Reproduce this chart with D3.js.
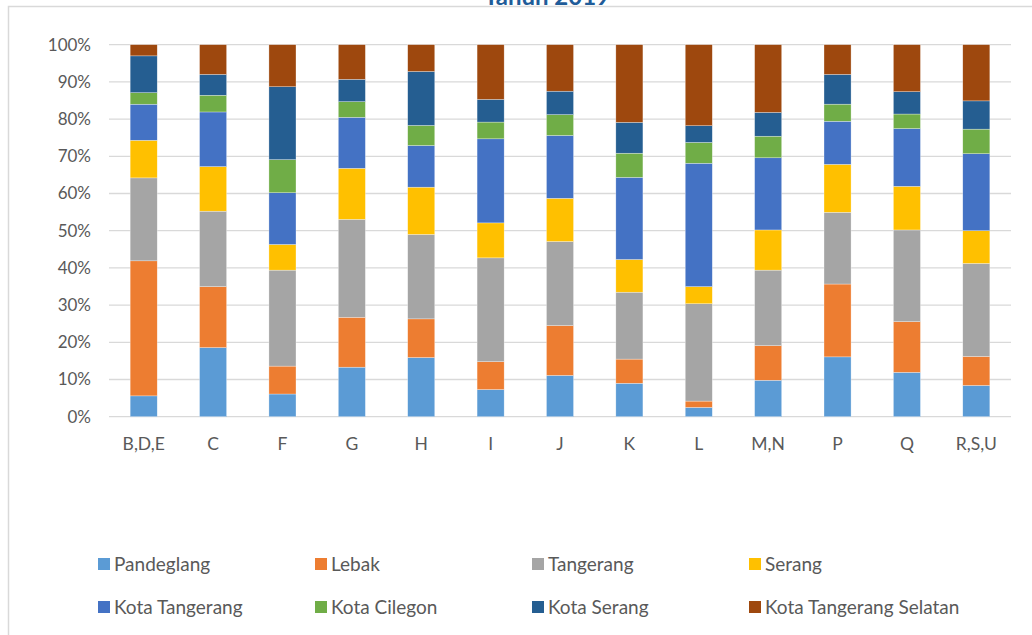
<!DOCTYPE html>
<html>
<head>
<meta charset="utf-8">
<script src="https://cdn.jsdelivr.net/npm/d3@7"></script>
<style>
  body { margin: 0; background: #fff; }
  svg { display: block; font-family: Lato, "Open Sans", sans-serif; }
</style>
</head>
<body>
<svg width="1032" height="635"></svg>
<script>
// kategori lapangan usaha
var categories = ["B,D,E", "C", "F", "G", "H", "I", "J", "K", "L", "M,N", "P", "Q", "R,S,U"];

// nama kabupaten/kota (urutan tumpukan dari bawah)
var regions = ["Pandeglang", "Lebak", "Tangerang", "Serang", "Kota Tangerang", "Kota Cilegon", "Kota Serang", "Kota Tangerang Selatan"];
var colors = ["#5B9BD5", "#ED7D31", "#A5A5A5", "#FFC000", "#4472C4", "#70AD47", "#255E91", "#9E480E"];

// persentase tiap wilayah per kategori
var pandeglang   = [5.6, 18.6, 6.1, 13.3, 15.9, 7.3, 11.1, 9.0, 2.5, 9.8, 16.1, 11.9, 8.4];
var lebak        = [36.3, 16.4, 7.5, 13.4, 10.4, 7.5, 13.4, 6.5, 1.7, 9.3, 19.6, 13.6, 7.8];
var tangerang    = [22.3, 20.3, 25.8, 26.3, 22.7, 27.9, 22.6, 18.0, 26.2, 20.3, 19.3, 24.6, 25.0];
var serang       = [10.1, 12.0, 6.9, 13.7, 12.7, 9.4, 11.6, 8.8, 4.6, 10.8, 12.9, 11.7, 8.8];
var kotaTangerang = [9.7, 14.7, 13.9, 13.7, 11.2, 22.6, 16.9, 22.1, 33.2, 19.4, 11.6, 15.5, 20.7];
var kotaCilegon  = [3.1, 4.5, 8.9, 4.2, 5.4, 4.5, 5.6, 6.5, 5.6, 5.8, 4.6, 3.9, 6.6];
var kotaSerang   = [9.9, 5.6, 19.6, 6.0, 14.5, 6.1, 6.3, 8.3, 4.5, 6.4, 8.0, 6.0, 7.6];
var kotaTangsel  = [3.0, 8.0, 11.3, 9.3, 7.2, 14.7, 12.5, 20.9, 21.8, 18.2, 8.0, 12.6, 15.1];

var seriesValues = [pandeglang, lebak, tangerang, serang, kotaTangerang, kotaCilegon, kotaSerang, kotaTangsel];

var yTicks = [0, 0.1, 0.2, 0.3, 0.4, 0.5, 0.6, 0.7, 0.8, 0.9, 1];

// tabel untuk d3.stack, dinormalisasi ke 100%
var table = categories.map(function (c, i) {
    var row = { cat: c };
    var total = d3.sum(seriesValues, function (s) { return s[i]; });
    regions.forEach(function (r, j) { row[r] = seriesValues[j][i] / total; });
    return row;
});

var svg = d3.select("svg");

// bingkai grafik
svg.append("rect")
    .attr("x", 8.5).attr("y", 6.5)
    .attr("width", 1100).attr("height", 700)
    .attr("fill", "none")
    .attr("stroke", "#d9d9d9")
    .attr("stroke-width", 1.5);

// judul (terpotong di atas, seperti aslinya)
svg.append("text")
    .attr("x", 547).attr("y", 4.5)
    .attr("text-anchor", "middle")
    .attr("font-size", 24)
    .attr("font-weight", "bold")
    .attr("fill", "#1F5C99")
    .text("Tahun 2019");

var margin = { left: 109, right: 1011, top: 44.7, bottom: 416.7 };

var x = d3.scaleBand()
    .domain(categories)
    .range([margin.left, margin.right])
    .paddingInner(0.61)
    .paddingOuter(0.305);

var y = d3.scaleLinear()
    .domain([0, 1])
    .range([margin.bottom, margin.top]);

// garis grid
svg.append("g")
    .selectAll("line")
    .data(yTicks)
    .enter()
    .append("line")
    .attr("x1", margin.left).attr("x2", margin.right)
    .attr("y1", function (d) { return y(d); })
    .attr("y2", function (d) { return y(d); })
    .attr("stroke", "#d9d9d9")
    .attr("stroke-width", 1.3);

// sumbu y
var yAxis = svg.append("g")
    .attr("transform", "translate(" + (margin.left - 18) + ",0)")
    .call(d3.axisLeft(y).tickValues(yTicks).tickFormat(d3.format(".0%")).tickSize(0).tickPadding(0));
yAxis.select(".domain").remove();
yAxis.selectAll("text")
    .attr("font-size", 17)
    .attr("font-family", "Lato, sans-serif")
    .attr("fill", "#595959");

// sumbu x
var xAxis = svg.append("g")
    .attr("transform", "translate(0," + margin.bottom + ")")
    .call(d3.axisBottom(x).tickSize(0).tickPadding(21));
xAxis.select(".domain").remove();
xAxis.selectAll("text")
    .attr("font-size", 17.5)
    .attr("font-family", "Lato, sans-serif")
    .attr("fill", "#595959");

// batang bertumpuk
var stacked = d3.stack().keys(regions)(table);

var layers = svg.append("g")
    .selectAll("g")
    .data(stacked)
    .enter()
    .append("g")
    .attr("fill", function (d, i) { return colors[i]; });

layers.selectAll("rect")
    .data(function (d) { return d; })
    .enter()
    .append("rect")
    .attr("x", function (d) { return x(d.data.cat); })
    .attr("width", x.bandwidth())
    .attr("y", function (d) { return y(d[1]); })
    .attr("height", function (d) { return y(d[0]) - y(d[1]); })
    .attr("stroke", "#ffffff")
    .attr("stroke-width", 0.5)
    .attr("stroke-opacity", 0.6);

// legenda
var legendX = [98, 315, 532, 749];
var legendY = [558, 601];
var legend = svg.append("g")
    .selectAll("g")
    .data(regions)
    .enter()
    .append("g")
    .attr("transform", function (d, i) {
        return "translate(" + legendX[i % 4] + "," + legendY[Math.floor(i / 4)] + ")";
    });

legend.append("rect")
    .attr("width", 12).attr("height", 12)
    .attr("fill", function (d, i) { return colors[i]; });

legend.append("text")
    .attr("x", 16).attr("y", 12.5)
    .attr("font-size", 19)
    .attr("fill", "#595959")
    .text(function (d) { return d; });
</script>
</body>
</html>
